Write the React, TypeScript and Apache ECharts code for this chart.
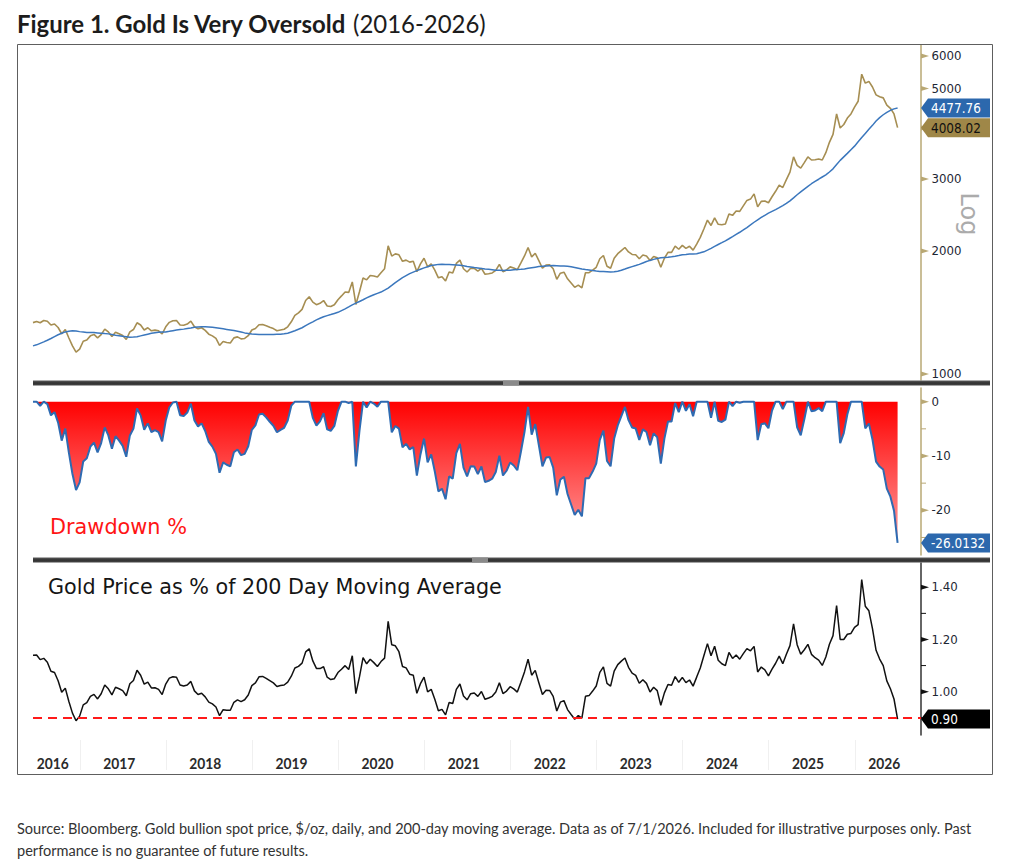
import React, { useEffect, useRef } from 'react';
import * as echarts from 'echarts';

// ---- Text ----
const TITLE_BOLD = 'Figure 1. Gold Is Very Oversold';
const TITLE_YEARS = '(2016-2026)';
const SOURCE_LINES = [
  'Source: Bloomberg. Gold bullion spot price, $/oz, daily, and 200-day moving average. Data as of 7/1/2026. Included for illustrative purposes only. Past',
  'performance is no guarantee of future results.',
];
const RATIO_TITLE = 'Gold Price as % of 200 Day Moving Average';
const DRAWDOWN_TITLE = 'Drawdown %';
const SCALE_NOTE = 'Log';

// ---- Axis ticks ----
const YEARS = [2016, 2017, 2018, 2019, 2020, 2021, 2022, 2023, 2024, 2025, 2026];
const PRICE_TICKS = [1000, 2000, 3000, 4000, 5000, 6000];
const DRAWDOWN_TICKS = [0, -10, -20];
const DRAWDOWN_MINOR = [-5, -15, -25];
const RATIO_TICKS = [1.0, 1.2, 1.4];
const RATIO_MINOR = [0.9, 1.1, 1.3];
const OVERSOLD_LEVEL = 0.9;

// ---- Gold spot ($/oz) and its 200-day moving average ----
// Samples on the 1st and 16th of each month; 2016 starts 16 Jun, 2026 ends 1 Jul.
const price2016 = [1336, 1345, 1335, 1352, 1346, 1318, 1326, 1300, 1255, 1285, 1225, 1172, 1132];
const ma2016 = [1172, 1179, 1189, 1199, 1210, 1222, 1235, 1248, 1258, 1268, 1273, 1277, 1274];

const price2017 = [1151, 1203, 1211, 1240, 1250, 1226, 1249, 1288, 1268, 1235, 1266, 1255, 1242, 1215, 1268, 1285, 1335, 1318, 1282, 1298, 1276, 1281, 1276, 1253];
const ma2017 = [1270, 1267, 1264, 1263, 1263, 1261, 1259, 1256, 1254, 1250, 1245, 1241, 1237, 1234, 1231, 1232, 1234, 1240, 1246, 1252, 1258, 1262, 1265, 1267];

const price2018 = [1305, 1338, 1350, 1352, 1318, 1316, 1325, 1347, 1305, 1290, 1298, 1279, 1252, 1240, 1222, 1175, 1201, 1195, 1191, 1226, 1233, 1219, 1222, 1241];
const ma2018 = [1268, 1272, 1277, 1281, 1285, 1288, 1292, 1296, 1301, 1304, 1306, 1305, 1304, 1301, 1298, 1294, 1290, 1286, 1282, 1278, 1273, 1267, 1261, 1257];

const price2019 = [1282, 1293, 1320, 1322, 1313, 1302, 1292, 1276, 1282, 1287, 1305, 1342, 1392, 1412, 1440, 1513, 1546, 1500, 1478, 1490, 1513, 1467, 1463, 1477];
const ma2019 = [1253, 1251, 1249, 1249, 1249, 1249, 1250, 1251, 1252, 1255, 1259, 1267, 1276, 1287, 1298, 1313, 1328, 1342, 1357, 1369, 1381, 1390, 1398, 1407];

const price2020 = [1520, 1553, 1588, 1584, 1680, 1480, 1590, 1718, 1700, 1743, 1737, 1727, 1770, 1810, 2060, 1944, 1968, 1958, 1887, 1900, 1879, 1888, 1780, 1860];
const ma2020 = [1416, 1430, 1444, 1460, 1477, 1491, 1505, 1520, 1536, 1550, 1563, 1575, 1587, 1604, 1623, 1648, 1674, 1698, 1721, 1741, 1761, 1776, 1791, 1805];

const price2021 = [1920, 1830, 1860, 1795, 1720, 1730, 1690, 1777, 1768, 1865, 1900, 1810, 1777, 1815, 1814, 1785, 1814, 1755, 1760, 1768, 1793, 1855, 1780, 1798];
const ma2021 = [1819, 1831, 1843, 1849, 1855, 1856, 1855, 1854, 1852, 1849, 1846, 1840, 1834, 1829, 1823, 1818, 1813, 1808, 1804, 1800, 1795, 1794, 1793, 1794];

const price2022 = [1829, 1818, 1800, 1870, 1945, 2040, 1935, 1975, 1895, 1815, 1848, 1850, 1810, 1705, 1765, 1775, 1710, 1670, 1630, 1650, 1625, 1770, 1770, 1795];
const ma2022 = [1795, 1799, 1803, 1805, 1808, 1814, 1820, 1826, 1832, 1835, 1838, 1841, 1843, 1841, 1839, 1838, 1836, 1830, 1823, 1816, 1808, 1802, 1797, 1791];

const price2023 = [1825, 1915, 1950, 1835, 1815, 1920, 1970, 2005, 2040, 1990, 1962, 1958, 1915, 1955, 1945, 1895, 1940, 1925, 1825, 1920, 1985, 1985, 2055, 2020];
const ma2023 = [1786, 1783, 1781, 1779, 1777, 1780, 1785, 1795, 1807, 1820, 1832, 1843, 1855, 1870, 1885, 1897, 1908, 1917, 1925, 1929, 1932, 1937, 1943, 1950];

const price2024 = [2065, 2030, 2055, 2010, 2080, 2160, 2265, 2380, 2310, 2410, 2325, 2320, 2330, 2465, 2445, 2505, 2500, 2580, 2660, 2680, 2760, 2565, 2645, 2650];
const ma2024 = [1958, 1962, 1967, 1968, 1970, 1980, 1991, 2010, 2031, 2053, 2075, 2096, 2118, 2143, 2169, 2196, 2223, 2252, 2283, 2317, 2352, 2385, 2417, 2446];

const price2025 = [2625, 2715, 2800, 2900, 2860, 2990, 3120, 3400, 3240, 3190, 3290, 3400, 3340, 3345, 3360, 3340, 3480, 3690, 3860, 4330, 4000, 4080, 4230, 4330];
const ma2025 = [2475, 2500, 2525, 2553, 2583, 2615, 2652, 2698, 2746, 2790, 2835, 2878, 2922, 2960, 2997, 3035, 3072, 3122, 3178, 3255, 3333, 3400, 3467, 3540];

const price2026 = [4500, 4650, 5417.21, 5150, 5200, 5040, 4820, 4770, 4740, 4550, 4470, 4330, 4008.02];
const ma2026 = [3611, 3700, 3790, 3880, 3970, 4060, 4160, 4240, 4310, 4370, 4420, 4455, 4477.76];

// year, index of first half-month sample (0 = 1 Jan), prices, moving averages
const SAMPLES: [number, number, number[], number[]][] = [
  [2016, 11, price2016, ma2016],
  [2017, 0, price2017, ma2017],
  [2018, 0, price2018, ma2018],
  [2019, 0, price2019, ma2019],
  [2020, 0, price2020, ma2020],
  [2021, 0, price2021, ma2021],
  [2022, 0, price2022, ma2022],
  [2023, 0, price2023, ma2023],
  [2024, 0, price2024, ma2024],
  [2025, 0, price2025, ma2025],
  [2026, 0, price2026, ma2026],
];

const when: number[] = [];
const price: number[] = [];
const avg200: number[] = [];
SAMPLES.forEach(([year, first, p, m]) => {
  p.forEach((v, i) => {
    when.push(year + (first + i) / 24);
    price.push(v);
    avg200.push(m[i]);
  });
});

// drawdown from running peak (%) and price relative to its 200-day average
let peak = 0;
const drawdown = price.map((v) => {
  peak = Math.max(peak, v);
  return (v / peak - 1) * 100;
});
const ratio = price.map((v, i) => v / avg200[i]);

// ---- Layout / style ----
const T0 = when[0];
const T1 = T0 + 888 / 86.1;
const GOLD = '#a68e52';
const MA_BLUE = '#3b77bd';
const TAN = '#b9a874';
const DD_BLUE = '#2e6bb2';
const TAG_BLUE = '#2c68ad';
const TAG_GOLD = '#9f8748';
const TICK_TEXT = '#1d2633';

const FONT_TITLE_B = 'bold 25px Lato';
const FONT_TITLE_R = '25px Lato';
const FONT_SOURCE = '16px Lato';
const FONT_PANEL = '21.5px "DejaVu Sans"';
const FONT_TICK = '12.5px "DejaVu Sans"';
const FONT_TAG = '13.5px "DejaVu Sans"';
const FONT_YEAR = 'bold 15px Lato';

const pairs = (ys: number[]) => when.map((t, i) => [t, ys[i]]);

function buildOption(): any {
  const grids = [
    { left: 33, width: 888, top: 45, height: 335 },
    { left: 33, width: 888, top: 388, height: 167 },
    { left: 33, width: 888, top: 563, height: 172 },
  ].map((g) => ({ ...g, containLabel: false, outerBoundsMode: 'none' }));
  const xAxis = [0, 1, 2].map((i) => ({ type: 'value', gridIndex: i, min: T0, max: T1, show: false }));
  const yBase = { position: 'right', axisTick: { show: false }, axisLabel: { show: false }, splitLine: { show: false } };
  return {
    animation: false,
    backgroundColor: '#ffffff',
    grid: grids,
    xAxis,
    yAxis: [
      { ...yBase, type: 'log', logBase: 10, gridIndex: 0, min: 967, max: 6385, axisLine: { show: true, lineStyle: { color: TAN, width: 1.5 } } },
      { ...yBase, type: 'value', gridIndex: 1, min: -28.23, max: 2.52, axisLine: { show: true, onZero: false, lineStyle: { color: TAN, width: 1.5 } } },
      { ...yBase, type: 'value', gridIndex: 2, min: 0.834, max: 1.493, axisLine: { show: true, onZero: false, lineStyle: { color: '#333333', width: 1.5 } } },
    ],
    series: [
      {
        name: 'Gold', type: 'line', xAxisIndex: 0, yAxisIndex: 0, data: pairs(price), showSymbol: false, symbol: 'none',
        lineStyle: { color: GOLD, width: 1.6 }, itemStyle: { color: GOLD },
      },
      {
        name: '200D MA', type: 'line', xAxisIndex: 0, yAxisIndex: 0, data: pairs(avg200), showSymbol: false, symbol: 'none',
        lineStyle: { color: MA_BLUE, width: 1.5 }, itemStyle: { color: MA_BLUE },
      },
      {
        name: 'Drawdown', type: 'line', xAxisIndex: 1, yAxisIndex: 1, data: pairs(drawdown), showSymbol: false, symbol: 'none',
        lineStyle: { color: DD_BLUE, width: 2 }, itemStyle: { color: DD_BLUE },
        areaStyle: {
          opacity: 1,
          color: new echarts.graphic.LinearGradient(0, 401, 0, 545, [
            { offset: 0, color: '#ff0000' },
            { offset: 1, color: '#ffa0a0' },
          ], true),
        },
      },
      {
        name: 'Ratio', type: 'line', xAxisIndex: 2, yAxisIndex: 2, data: pairs(ratio), showSymbol: false, symbol: 'none',
        lineStyle: { color: '#111111', width: 1.5 }, itemStyle: { color: '#111111' },
        markLine: {
          silent: true, symbol: ['none', 'none'], label: { show: false },
          lineStyle: { color: '#ff1a1a', type: [9, 6], width: 2 },
          data: [{ yAxis: OVERSOLD_LEVEL }],
        },
      },
    ],
  };
}

const measureCtx = document.createElement('canvas').getContext('2d') as CanvasRenderingContext2D;
function textWidth(text: string, font: string) {
  measureCtx.font = font;
  return measureCtx.measureText(text).width;
}

function textEl(x: number, y: number, text: string, font: string, fill: string, scaleX = 1, align = 'left', z = 60): any {
  return {
    type: 'text', x, y, scaleX, z, silent: true,
    style: { text, font, fill, textAlign: align, textVerticalAlign: 'middle', align, verticalAlign: 'middle' },
  };
}

function buildGraphics(chart: any): any[] {
  const yPx = (axis: number, v: number) => chart.convertToPixel({ yAxisIndex: axis }, v) as number;
  const xPx = (v: number) => chart.convertToPixel({ xAxisIndex: 2 }, v) as number;
  const AX = xPx(T1);
  const XL = xPx(T0);
  const els: any[] = [];

  // frame
  els.push({ type: 'rect', silent: true, z: 1, shape: { x: 17.5, y: 44.5, width: 975, height: 730 }, style: { fill: 'none', stroke: '#5e5e5e', lineWidth: 1 } });

  // panel separators
  [[383, 503], [560, 472]].forEach(([yc, hx]) => {
    els.push({
      type: 'rect', silent: true, z: 40, shape: { x: XL, y: yc - 2.5, width: 990 - XL, height: 5 },
      style: { fill: new echarts.graphic.LinearGradient(0, 0, 0, 1, [{ offset: 0, color: '#5c5c5c' }, { offset: 0.5, color: '#303030' }, { offset: 1, color: '#474747' }]) },
    });
    els.push({ type: 'rect', silent: true, z: 41, shape: { x: hx, y: yc - 2.5, width: 16, height: 5 }, style: { fill: '#8a8a8a' } });
  });

  // tags at the last values
  const tagYs: number[][] = [[], [], []];
  const tag = (axis: number, value: number, text: string, fill: string, color: string) => {
    const y = yPx(axis, value);
    tagYs[axis].push(y);
    els.push({ type: 'polygon', silent: true, z: 70, shape: { points: [[AX, y], [AX + 7, y - 9.5], [990, y - 9.5], [990, y + 9.5], [AX + 7, y + 9.5]] }, style: { fill } });
    const s = 50 / textWidth('4477.76', FONT_TAG);
    els.push(textEl(AX + 10, y + 0.5, text, FONT_TAG, color, s, 'left', 71));
  };
  const n = price.length - 1;
  tag(0, avg200[n], avg200[n].toFixed(2), TAG_BLUE, '#ffffff');
  tag(0, price[n], price[n].toFixed(2), TAG_GOLD, '#111111');
  tag(1, drawdown[n], drawdown[n].toFixed(4), TAG_BLUE, '#ffffff');
  tag(2, ratio[n], ratio[n].toFixed(2), '#000000', '#ffffff');

  // right-axis ticks and labels
  const sTick = 30 / textWidth('6000', FONT_TICK);
  const axisTicks = (axis: number, major: number[], minor: number[], color: string, fmt: (v: number) => string) => {
    major.forEach((v) => {
      const y = yPx(axis, v);
      els.push({ type: 'polygon', silent: true, z: 45, shape: { points: [[AX, y - 2.5], [AX + 8, y], [AX, y + 2.5]] }, style: { fill: color } });
      if (tagYs[axis].every((ty) => Math.abs(ty - y) > 12)) {
        els.push(textEl(AX + 10.5, y, fmt(v), FONT_TICK, TICK_TEXT, sTick));
      }
    });
    minor.forEach((v) => {
      const y = yPx(axis, v);
      els.push({ type: 'line', silent: true, z: 45, shape: { x1: AX, y1: y, x2: AX + 5, y2: y }, style: { stroke: color, lineWidth: 1 } });
    });
  };
  axisTicks(0, PRICE_TICKS, [], TAN, (v) => String(v));
  axisTicks(1, DRAWDOWN_TICKS, DRAWDOWN_MINOR, TAN, (v) => String(v));
  axisTicks(2, RATIO_TICKS, RATIO_MINOR, '#111111', (v) => v.toFixed(2));

  // year labels centred on each year's visible span, with faint separators
  const sYear = 32 / textWidth('2016', FONT_YEAR);
  YEARS.forEach((yr) => {
    const c = (Math.max(yr, T0) + Math.min(yr + 1, T1)) / 2 - 0.04;
    els.push(textEl(xPx(c), 763, String(yr), FONT_YEAR, '#2b2b2b', sYear, 'center'));
    if (yr > T0) {
      const x = Math.round(xPx(yr)) + 0.5;
      els.push({ type: 'line', silent: true, z: 5, shape: { x1: x, y1: 740, x2: x, y2: 770 }, style: { stroke: '#f0f0f0', lineWidth: 1 } });
    }
  });

  // log-scale note
  els.push({
    type: 'text', x: 969, y: 214, rotation: -Math.PI / 2, z: 60, silent: true,
    style: { text: SCALE_NOTE, font: '24px "DejaVu Sans"', fill: '#ababab', textAlign: 'center', textVerticalAlign: 'middle', align: 'center', verticalAlign: 'middle' },
  });

  // panel titles
  els.push(textEl(50, 527, DRAWDOWN_TITLE, '21px "DejaVu Sans"', '#ff1414', 137 / textWidth(DRAWDOWN_TITLE, '21px "DejaVu Sans"')));
  els.push(textEl(48, 586, RATIO_TITLE, FONT_PANEL, '#151515', 454 / textWidth(RATIO_TITLE, FONT_PANEL)));

  // figure title
  const sTitle = 330 / textWidth(TITLE_BOLD, FONT_TITLE_B);
  els.push(textEl(17, 23, TITLE_BOLD, FONT_TITLE_B, '#1c1c1c', sTitle));
  els.push(textEl(353, 23, TITLE_YEARS, FONT_TITLE_R, '#1c1c1c', sTitle));

  // source note
  const sSource = 956 / textWidth(SOURCE_LINES[0], FONT_SOURCE);
  els.push(textEl(17, 828, SOURCE_LINES[0], FONT_SOURCE, '#333333', sSource));
  els.push(textEl(17, 850, SOURCE_LINES[1], FONT_SOURCE, '#333333', sSource));

  return els;
}

export default function App() {
  const ref = useRef<HTMLDivElement>(null);
  useEffect(() => {
    const el = ref.current;
    if (!el) return;
    const chart = echarts.init(el, undefined, { renderer: 'svg' });
    chart.setOption(buildOption());
    chart.setOption({ graphic: { elements: buildGraphics(chart) } });
    return () => chart.dispose();
  }, []);
  return <div ref={ref} style={{ position: 'fixed', left: 0, top: 0, width: 1013, height: 866, background: '#ffffff' }} />;
}
